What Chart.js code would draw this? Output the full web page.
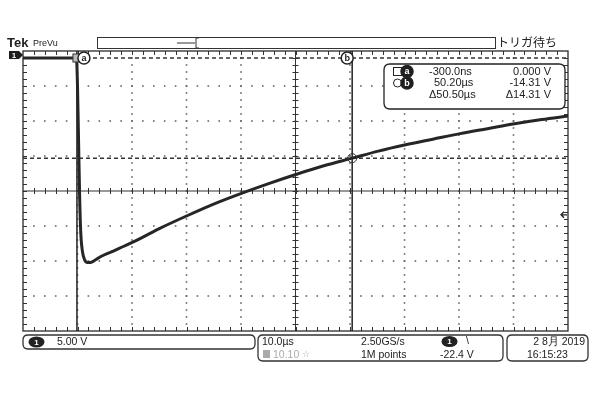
<!DOCTYPE html>
<html>
<head>
<meta charset="utf-8">
<script src="https://cdn.jsdelivr.net/npm/chart.js@4.4.0/dist/chart.umd.min.js"></script>
<style>
  html, body { margin: 0; padding: 0; background: #fff; }
  #c { display: block; }
</style>
</head>
<body>
<canvas id="c" width="600" height="400"></canvas>
<script>
// trace, time in µs, voltage in V
const timeUs = [-10.2, -5, -0.4, -0.2, 0, 0.2, 0.4, 0.7, 1.1, 1.6, 2.2, 3, 4, 6, 8, 11, 15, 20, 25, 30, 35, 40, 45, 50.2, 55, 60, 65, 70, 75, 80, 85, 89.8];
const volts  = [0, 0, 0, -4, -12, -20, -25, -27.6, -28.8, -29.2, -29.2, -28.9, -28.4, -27.7, -27.0, -25.9, -24.3, -22.5, -20.8, -19.3, -17.9, -16.6, -15.4, -14.31, -13.3, -12.4, -11.6, -10.8, -10.1, -9.4, -8.8, -8.3];

// screen window: 10 µs/div x 10, 5 V/div x 8
const xRange = [-10.2, 89.8];
const yRange = [-39, 1];
const cursorTimes = [-0.3, 50.2];
const cursorVolts = [0, -14.31];
const cursorNames = ['a', 'b'];
const triggerLevel = -22.4;

const readoutRows = [
  ['-300.0ns', '0.000 V'],
  ['50.20µs', '-14.31 V'],
  ['Δ50.50µs', 'Δ14.31 V']
];

const FONT = '"Liberation Sans", Arial, sans-serif';
const JFONT = '"Noto Sans CJK JP", sans-serif';

function rrect(ctx, x, y, w, h, r) {
  ctx.beginPath();
  ctx.moveTo(x + r, y);
  ctx.lineTo(x + w - r, y);
  ctx.quadraticCurveTo(x + w, y, x + w, y + r);
  ctx.lineTo(x + w, y + h - r);
  ctx.quadraticCurveTo(x + w, y + h, x + w - r, y + h);
  ctx.lineTo(x + r, y + h);
  ctx.quadraticCurveTo(x, y + h, x, y + h - r);
  ctx.lineTo(x, y + r);
  ctx.quadraticCurveTo(x, y, x + r, y);
  ctx.closePath();
}

function pill(ctx, cx, cy, label) {
  ctx.save();
  ctx.fillStyle = '#222';
  ctx.beginPath();
  ctx.ellipse(cx, cy, 8, 5.5, 0, 0, Math.PI * 2);
  ctx.fill();
  ctx.fillStyle = '#fff';
  ctx.font = 'bold 8px ' + FONT;
  ctx.textAlign = 'center';
  ctx.textBaseline = 'middle';
  ctx.fillText(label, cx, cy + 0.5);
  ctx.restore();
}

function letterDot(ctx, cx, cy, letter, filled) {
  ctx.save();
  ctx.beginPath();
  ctx.arc(cx, cy, 6, 0, Math.PI * 2);
  ctx.fillStyle = filled ? '#1e1e1e' : '#fff';
  ctx.fill();
  ctx.lineWidth = 1.5;
  ctx.strokeStyle = '#222';
  ctx.stroke();
  ctx.fillStyle = filled ? '#fff' : '#222';
  ctx.font = 'bold 9px ' + FONT;
  ctx.textAlign = 'center';
  ctx.textBaseline = 'middle';
  ctx.fillText(letter, cx, cy + 0.5);
  ctx.restore();
}

const scopePlugin = {
  id: 'scope',
  beforeDatasetsDraw(chart) {
    const { ctx, chartArea: { left, right, top, bottom }, scales: { x, y } } = chart;
    const cx = x.getPixelForValue(xRange[0] + 50);
    const cy = y.getPixelForValue(yRange[0] + 20);
    ctx.save();

    // dotted graticule
    ctx.fillStyle = '#666';
    for (let k = 1; k < 10; k++) {
      if (k === 5) continue;
      const px = x.getPixelForValue(xRange[0] + 10 * k);
      for (let j = 1; j < 40; j++) {
        const py = y.getPixelForValue(yRange[1] - j);
        ctx.fillRect(px - 0.8, py - 0.8, 1.6, 1.6);
      }
    }
    for (let k = 1; k < 8; k++) {
      if (k === 4) continue;
      const py = y.getPixelForValue(yRange[1] - 5 * k);
      for (let j = 1; j < 50; j++) {
        const px = x.getPixelForValue(xRange[0] + 2 * j);
        ctx.fillRect(px - 0.8, py - 0.8, 1.6, 1.6);
      }
    }

    // centre cross with minor ticks
    ctx.strokeStyle = '#333';
    ctx.lineWidth = 1;
    ctx.beginPath();
    ctx.moveTo(cx, top); ctx.lineTo(cx, bottom);
    ctx.moveTo(left, cy); ctx.lineTo(right, cy);
    for (let j = 1; j < 40; j++) {
      const py = Math.round(y.getPixelForValue(yRange[1] - j)) + 0.5;
      ctx.moveTo(cx - 3, py); ctx.lineTo(cx + 3, py);
      ctx.moveTo(left, py); ctx.lineTo(left + 4, py);
      ctx.moveTo(right - 4, py); ctx.lineTo(right, py);
    }
    for (let j = 1; j < 50; j++) {
      const px = Math.round(x.getPixelForValue(xRange[0] + 2 * j)) + 0.5;
      ctx.moveTo(px, cy - 3); ctx.lineTo(px, cy + 3);
      ctx.moveTo(px, top); ctx.lineTo(px, top + 4);
      ctx.moveTo(px, bottom - 4); ctx.lineTo(px, bottom);
    }
    ctx.stroke();

    // border
    ctx.lineWidth = 1.3;
    ctx.strokeStyle = '#2a2a2a';
    ctx.strokeRect(left, top, right - left, bottom - top);

    // cursors
    ctx.lineWidth = 1.5;
    ctx.strokeStyle = '#222';
    ctx.beginPath();
    cursorTimes.forEach(t => {
      const px = x.getPixelForValue(t);
      ctx.moveTo(px, top); ctx.lineTo(px, bottom);
    });
    ctx.stroke();
    ctx.setLineDash([4, 3]);
    ctx.strokeStyle = '#333';
    ctx.beginPath();
    cursorVolts.forEach(v => {
      const py = y.getPixelForValue(v);
      ctx.moveTo(left, py); ctx.lineTo(right, py);
    });
    ctx.stroke();
    ctx.restore();
  },
  afterDatasetsDraw(chart) {
    const { ctx, chartArea: { left, right, top, bottom }, scales: { x, y } } = chart;
    ctx.save();

    // cursor markers on the trace
    const ax = x.getPixelForValue(cursorTimes[0]);
    const ay = y.getPixelForValue(cursorVolts[0]);
    const bx = x.getPixelForValue(cursorTimes[1]);
    const by = y.getPixelForValue(cursorVolts[1]);
    ctx.fillStyle = '#bbb';
    ctx.fillRect(ax - 4, ay - 4, 8, 8);
    ctx.strokeStyle = '#333';
    ctx.lineWidth = 1;
    ctx.strokeRect(ax - 4, ay - 4, 8, 8);
    ctx.beginPath();
    ctx.arc(bx, by, 4.5, 0, Math.PI * 2);
    ctx.stroke();
    letterDot(ctx, ax + 7, ay, cursorNames[0], false);
    letterDot(ctx, bx - 5, ay, cursorNames[1], false);

    // ground marker
    const gy = y.getPixelForValue(0) - 3;
    ctx.fillStyle = '#1e1e1e';
    ctx.beginPath();
    ctx.moveTo(9, gy - 4); ctx.lineTo(19, gy - 4); ctx.lineTo(23, gy);
    ctx.lineTo(19, gy + 4); ctx.lineTo(9, gy + 4); ctx.closePath();
    ctx.fill();
    ctx.fillStyle = '#fff';
    ctx.font = 'bold 8px ' + FONT;
    ctx.textAlign = 'center';
    ctx.textBaseline = 'middle';
    ctx.fillText('1', 14, gy + 0.5);

    // trigger level arrow on the right
    const ty = y.getPixelForValue(triggerLevel);
    ctx.strokeStyle = '#222';
    ctx.lineWidth = 1.3;
    ctx.beginPath();
    ctx.moveTo(right - 7, ty); ctx.lineTo(right - 1, ty);
    ctx.moveTo(right - 4, ty - 3); ctx.lineTo(right - 7, ty); ctx.lineTo(right - 4, ty + 3);
    ctx.stroke();

    // top strip
    ctx.textAlign = 'left';
    ctx.textBaseline = 'alphabetic';
    ctx.fillStyle = '#222';
    ctx.font = 'bold 13px ' + FONT;
    ctx.fillText('Tek', 7, 47);
    ctx.font = '9px ' + FONT;
    ctx.fillText('PreVu', 33, 46);
    ctx.strokeStyle = '#333';
    ctx.lineWidth = 1;
    ctx.strokeRect(97.5, 37.5, 398, 11);
    ctx.beginPath();
    ctx.moveTo(177, 43); ctx.lineTo(195, 43);
    ctx.moveTo(196, 38); ctx.lineTo(196, 48);
    ctx.moveTo(196, 38); ctx.lineTo(199, 38);
    ctx.moveTo(196, 48); ctx.lineTo(199, 48);
    ctx.stroke();
    ctx.font = '12px ' + JFONT;
    ctx.fillText('トリガ待ち', 497, 47);

    // cursor readout
    ctx.fillStyle = '#fff';
    rrect(ctx, 384, 64, 181, 45, 6);
    ctx.fill();
    ctx.lineWidth = 1.3;
    ctx.strokeStyle = '#222';
    ctx.stroke();
    ctx.lineWidth = 1;
    ctx.strokeRect(393.5, 67.5, 8, 8);
    ctx.beginPath();
    ctx.arc(397.5, 83, 4, 0, Math.PI * 2);
    ctx.stroke();
    letterDot(ctx, 407, 71.5, cursorNames[0], true);
    letterDot(ctx, 407, 83, cursorNames[1], true);
    ctx.fillStyle = '#222';
    ctx.font = '11px ' + FONT;
    ctx.textBaseline = 'middle';
    const rowY = [72, 83, 95];
    const leftX = [429, 434, 429];
    readoutRows.forEach((row, i) => {
      ctx.textAlign = 'left';
      ctx.fillText(row[0], leftX[i], rowY[i]);
      ctx.textAlign = 'right';
      ctx.fillText(row[1], 551, rowY[i]);
    });

    // bottom status boxes
    ctx.lineWidth = 1.3;
    ctx.strokeStyle = '#333';
    rrect(ctx, 23, 335, 232, 14, 5); ctx.stroke();
    rrect(ctx, 258, 335, 245, 26, 5); ctx.stroke();
    rrect(ctx, 507, 335, 81, 26, 5); ctx.stroke();

    pill(ctx, 36.5, 342, '1');
    pill(ctx, 449.5, 341.5, '1');

    ctx.fillStyle = '#222';
    ctx.font = '10.5px ' + FONT;
    ctx.textAlign = 'left';
    ctx.textBaseline = 'middle';
    ctx.fillText('5.00 V', 57, 342);
    ctx.fillText('10.0µs', 262, 342);
    ctx.fillText('2.50GS/s', 361, 342);
    ctx.fillText('1M points', 361, 355);
    ctx.fillText('\\', 466, 341);
    ctx.fillText('-22.4 V', 440, 355);
    ctx.textAlign = 'right';
    ctx.fillText('2 8月 2019', 585, 342);
    ctx.textAlign = 'left';
    ctx.fillText('16:15:23', 527, 355);

    ctx.fillStyle = '#aaa';
    ctx.fillRect(263, 350, 7, 8);
    ctx.fillText('10.10', 273, 355);
    ctx.font = '9px "DejaVu Sans", sans-serif';
    ctx.fillText('☆', 302, 355);

    ctx.restore();
  }
};

new Chart(document.getElementById('c'), {
  type: 'line',
  data: {
    datasets: [{
      data: timeUs.map((t, i) => ({ x: t, y: volts[i] })),
      borderColor: '#262626',
      borderWidth: 3,
      pointRadius: 0,
      cubicInterpolationMode: 'monotone'
    }]
  },
  options: {
    responsive: false,
    animation: false,
    layout: { padding: { left: 23, right: 32, top: 51, bottom: 69 } },
    scales: {
      x: { type: 'linear', min: xRange[0], max: xRange[1], display: false },
      y: { min: yRange[0], max: yRange[1], display: false }
    },
    plugins: { legend: { display: false }, tooltip: { enabled: false } }
  },
  plugins: [scopePlugin]
});
</script>
</body>
</html>
